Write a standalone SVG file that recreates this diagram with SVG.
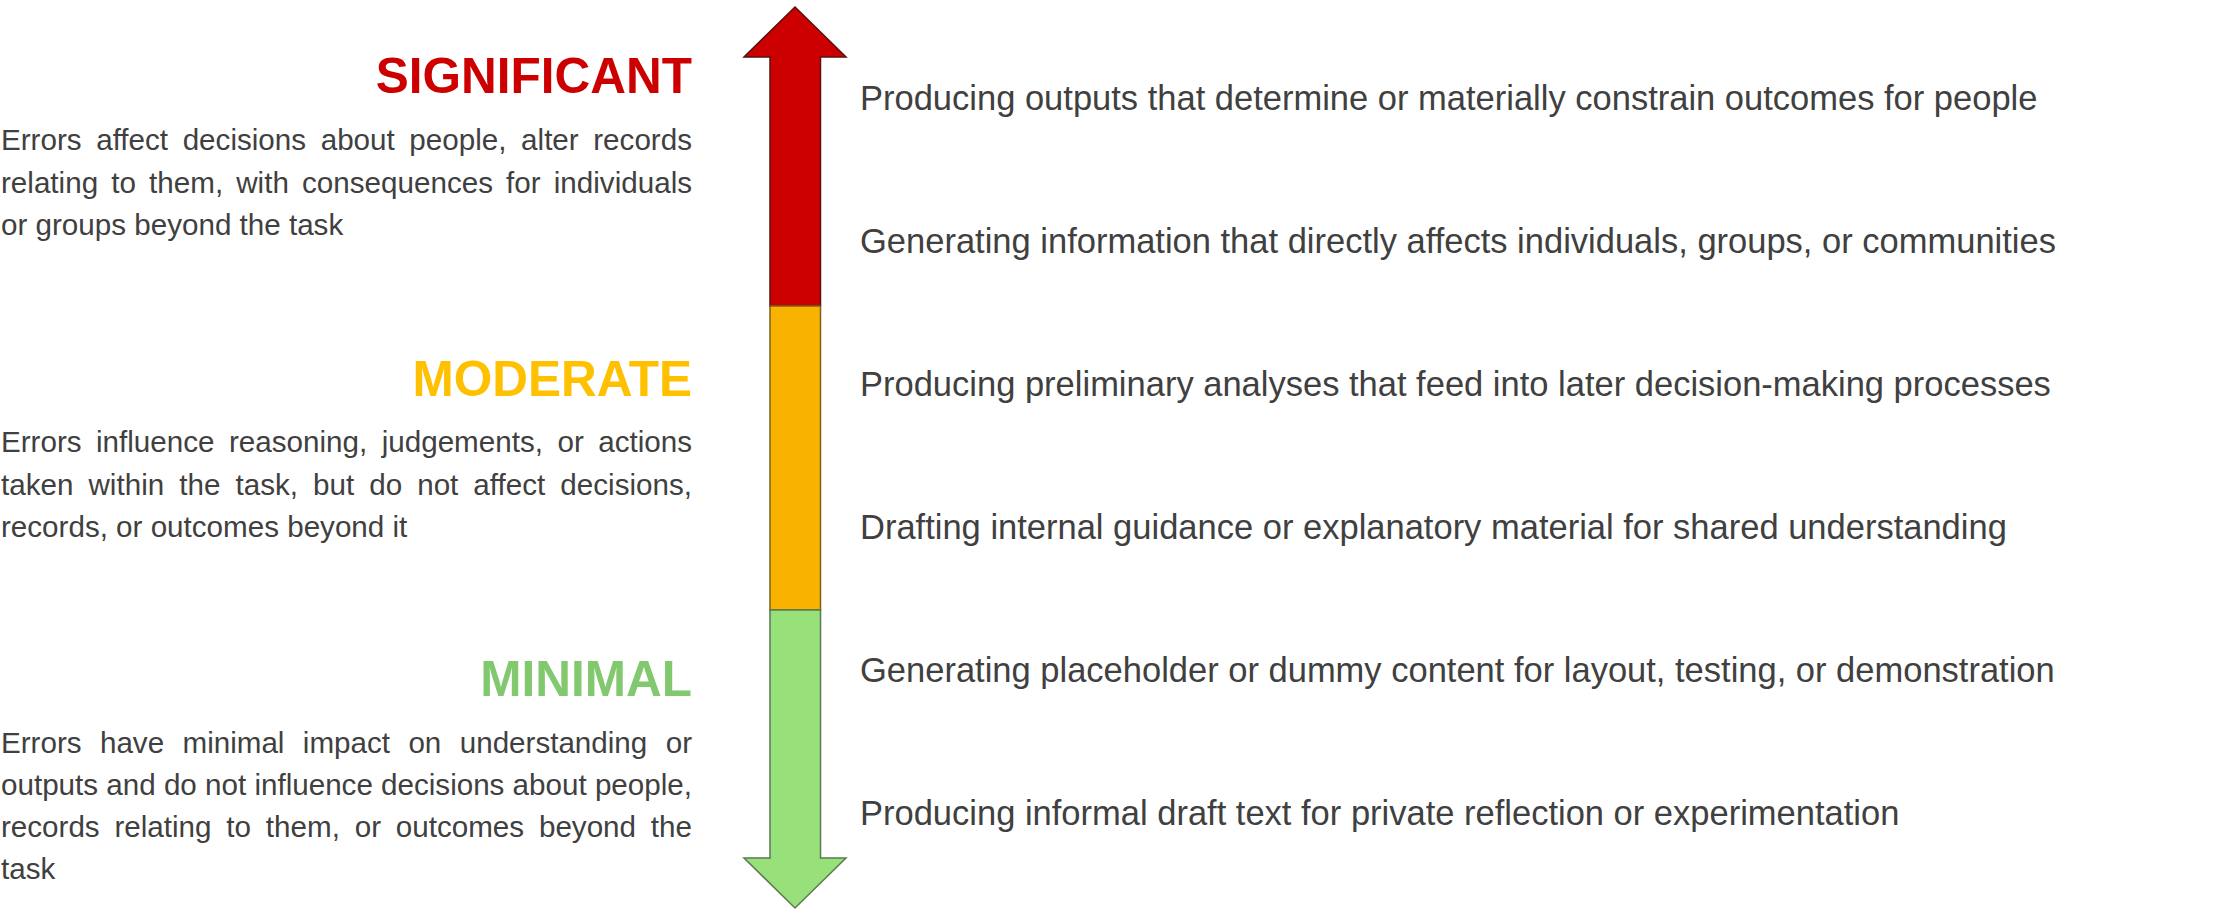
<svg xmlns="http://www.w3.org/2000/svg" width="2232" height="913" viewBox="0 0 2232 913">
<style>
.title{font-family:"Liberation Sans",Arial,sans-serif;font-weight:bold;font-size:49.5px;text-anchor:end}
.body{font-family:"Liberation Sans",Arial,sans-serif;font-size:29.6px;fill:#404040}
.item{font-family:"Liberation Sans",Arial,sans-serif;font-size:34.5px;fill:#404040}
.seg{stroke-width:1.5;stroke-linejoin:miter}
</style>
<rect width="2232" height="913" fill="#ffffff"/>
<g id="arrow">
<polygon class="seg" points="795,7 846,57 820.5,57 820.5,306 770,306 770,57 744,57" fill="#cc0000" stroke="#5a1010"/>
<polygon class="seg" points="770,306 820.5,306 820.5,610 770,610" fill="#f9b200" stroke="#7a6020"/>
<polygon class="seg" points="770,610 820.5,610 820.5,858 846,858 795,908 744,858 770,858" fill="#98e07a" stroke="#5a7a50"/>
</g>
<g id="significant">
<text class="title" x="692" y="93" fill="#cc0000">SIGNIFICANT</text>
<text class="body" x="1" y="150" word-spacing="6.3" textLength="691" lengthAdjust="spacing">Errors affect decisions about people, alter records</text>
<text class="body" x="1" y="192.5" word-spacing="4.9" textLength="691" lengthAdjust="spacing">relating to them, with consequences for individuals</text>
<text class="body" x="1" y="235">or groups beyond the task</text>
</g>
<g id="moderate">
<text class="title" x="692" y="396" fill="#ffc000">MODERATE</text>
<text class="body" x="1" y="452" word-spacing="6.26" textLength="691" lengthAdjust="spacing">Errors influence reasoning, judgements, or actions</text>
<text class="body" x="1" y="494.5" word-spacing="6.78" textLength="691" lengthAdjust="spacing">taken within the task, but do not affect decisions,</text>
<text class="body" x="1" y="537">records, or outcomes beyond it</text>
</g>
<g id="minimal">
<text class="title" x="692" y="696" fill="#82c86e">MINIMAL</text>
<text class="body" x="1" y="753" word-spacing="10.2" textLength="691" lengthAdjust="spacing">Errors have minimal impact on understanding or</text>
<text class="body" x="1" y="795" textLength="691" lengthAdjust="spacing">outputs and do not influence decisions about people,</text>
<text class="body" x="1" y="837" word-spacing="6.6" textLength="691" lengthAdjust="spacing">records relating to them, or outcomes beyond the</text>
<text class="body" x="1" y="879">task</text>
</g>
<g id="items">
<text class="item" x="860" y="110">Producing outputs that determine or materially constrain outcomes for people</text>
<text class="item" x="860" y="253">Generating information that directly affects individuals, groups, or communities</text>
<text class="item" x="860" y="396">Producing preliminary analyses that feed into later decision-making processes</text>
<text class="item" x="860" y="539">Drafting internal guidance or explanatory material for shared understanding</text>
<text class="item" x="860" y="682">Generating placeholder or dummy content for layout, testing, or demonstration</text>
<text class="item" x="860" y="825">Producing informal draft text for private reflection or experimentation</text>
</g>
<g id="connectors"></g>
</svg>
